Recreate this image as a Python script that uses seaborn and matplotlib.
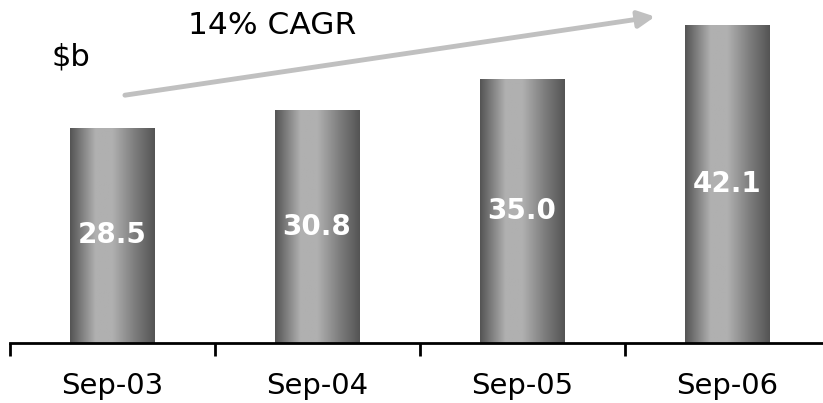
import numpy as np
import matplotlib as PlotLib
PlotLib.use('Agg')
import matplotlib.pyplot as PyPlot
import seaborn as sns

periods = ["Sep-03", "Sep-04", "Sep-05", "Sep-06"]
values = [28.5, 30.8, 35.0, 42.1]
unit_label = "$b"
growth_label = "14% CAGR"

sns.set_style("white")
PyPlot.rcParams['font.family'] = ['DejaVu Sans']
PyPlot.rcParams['text.color'] = 'black'

fig = PyPlot.figure(figsize=(8.23, 4.03), dpi=100)
ax = fig.add_axes([9.5 / 823, 60 / 403, 820 / 823, 343 / 403])

sns.barplot(x=periods, y=values, color="#888888", width=0.41, ax=ax, linewidth=0)

# cylinder-like shading on each bar
xs = np.linspace(0, 1, 256)
shade = np.interp(xs, [0, 0.3, 0.5, 0.75, 1], [0.33, 0.69, 0.69, 0.5, 0.33])
grad = np.tile(shade, (2, 1))
for bar in ax.patches:
    x0, y0 = bar.get_x(), bar.get_y()
    w, h = bar.get_width(), bar.get_height()
    im = ax.imshow(grad, cmap="gray", vmin=0, vmax=1, aspect="auto",
                   extent=(x0, x0 + w, y0, y0 + h), interpolation="bilinear", zorder=2)
    im.set_clip_path(bar)

for i, v in enumerate(values):
    ax.text(i, v / 2, f"{v:.1f}", ha="center", va="center", color="white",
            fontsize=20, fontweight="bold", zorder=3)

ax.set_xlim(-0.5, 3.5)
ax.set_ylim(0, 45.4)
ax.set_ylabel("")
ax.set_yticks([])
for s in ["top", "right", "left"]:
    ax.spines[s].set_visible(False)
ax.spines["bottom"].set_linewidth(2)
ax.spines["bottom"].set_color("black")

ax.set_xticks(range(len(periods)))
ax.set_xticklabels(periods, fontsize=21, color="black")
ax.set_xticks(np.arange(-0.5, len(periods)), minor=True)
ax.tick_params(axis="x", which="major", length=0, pad=21)
ax.tick_params(axis="x", which="minor", length=9, width=2, color="black", bottom=True)

ax.annotate("", xy=(2.649, 43.2), xytext=(0.063, 32.8),
            arrowprops=dict(arrowstyle="-|>,head_length=1.0,head_width=0.5",
                            color="#c0c0c0", lw=3.5, shrinkA=0, shrinkB=0),
            annotation_clip=False)
fig.text(188 / 823, 1 - 25 / 403, growth_label, fontsize=22.5, ha="left", va="center")
fig.text(52 / 823, 1 - 57 / 403, unit_label, fontsize=22, ha="left", va="center")

fig.savefig("out.png", dpi=100)
